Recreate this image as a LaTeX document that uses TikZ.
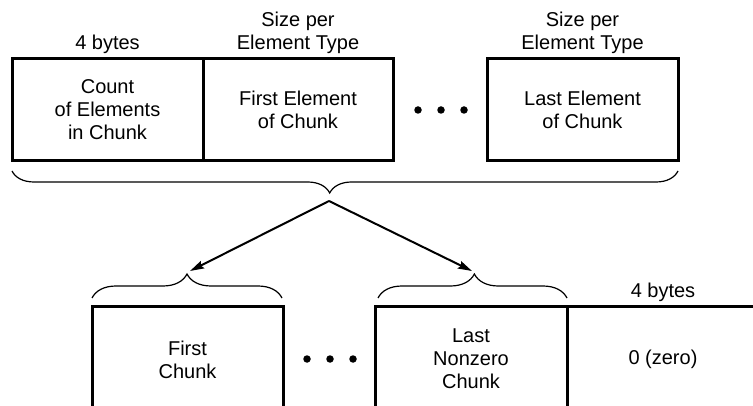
\documentclass[tikz,border=0pt]{standalone}
\usepackage{fontspec}
\setmainfont{Liberation Sans}
\usetikzlibrary{decorations.pathreplacing,arrows.meta}
\begin{document}
\begin{tikzpicture}[x=1pt,y=-1pt,
  box/.style={draw, line width=3pt, rectangle, inner sep=0pt, align=center},
  lbl/.style={align=center, inner sep=0pt},
  txt/.style={font=\fontsize{20}{23}\selectfont},
  dot/.style={circle, fill, inner sep=0pt, minimum size=7.5pt},
  brc/.style={decorate, line width=1.2pt, decoration={brace, amplitude=#1}},
  arr/.style={line width=2pt, -{Stealth[length=14pt,width=8pt,inset=2pt]}}]
\useasboundingbox (0,0) rectangle (753,406);
\clip (0,0) rectangle (753,406);
\fill[white] (0,0) rectangle (753,406);
% top row
\node[box, txt, minimum width=191pt, minimum height=102pt] (count) at (107.5,110) {Count\\of Elements\\in Chunk};
\node[box, txt, minimum width=190pt, minimum height=102pt] (first) at (298,110) {First Element\\of Chunk};
\node[box, txt, minimum width=191pt, minimum height=102pt] (last) at (582.5,110) {Last Element\\of Chunk};
\node[lbl, txt] (l4a) at (107.5,44) {4 bytes};
\node[lbl, txt] (lsa) at (298,33) {Size per\\Element Type};
\node[lbl, txt] (lsb) at (582.5,33) {Size per\\Element Type};
\node[dot] (d1) at (418,110) {};
\node[dot] (d2) at (441,110) {};
\node[dot] (d3) at (464,110) {};
% top brace
\coordinate (tb1) at (12,171);
\coordinate (tb2) at (678,171);
\draw[brc=22pt, decoration={mirror, aspect=0.477}] (tb1) -- (tb2);
% arrows
\coordinate (apex) at (329,201);
\coordinate (t1) at (190,271);
\coordinate (t2) at (472,271);
\draw[arr] (apex) -- (t1);
\draw[arr] (apex) -- (t2);
% bottom braces
\coordinate (bb1) at (92,298);
\coordinate (bb2) at (282,298);
\coordinate (bb3) at (378,298);
\coordinate (bb4) at (567,298);
\draw[brc=24pt, decoration={aspect=0.5}] (bb1) -- (bb2);
\draw[brc=24pt, decoration={aspect=0.51}] (bb3) -- (bb4);
% bottom row shapes
\draw[line width=3pt] (92,420) -- (92,307) -- (283,307) -- (283,420);
\draw[line width=3pt] (375,420) -- (375,307) -- (760,307);
\draw[line width=3pt] (567,307) -- (567,420);
\node[lbl, txt] (fc) at (187.5,360) {First\\Chunk};
\node[lbl, txt] (lnc) at (471,359) {Last\\Nonzero\\Chunk};
\node[lbl, txt] (zero) at (663,359) {0 (zero)};
\node[lbl, txt] (l4b) at (663,292) {4 bytes};
\node[dot] (e1) at (307,359) {};
\node[dot] (e2) at (330,359) {};
\node[dot] (e3) at (353,359) {};
\end{tikzpicture}
\end{document}
